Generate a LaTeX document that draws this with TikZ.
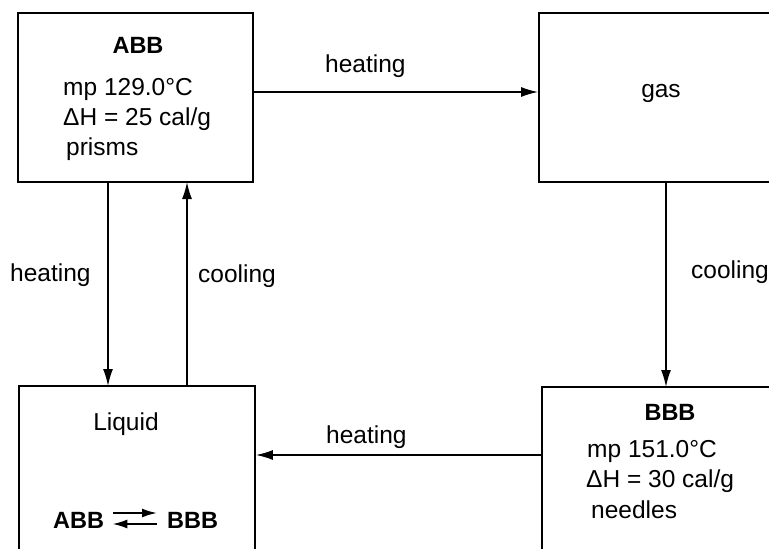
\documentclass[tikz,border=0pt]{standalone}
\usepackage{fontspec}
\setmainfont{Liberation Sans}
\usetikzlibrary{arrows.meta}
\begin{document}
\begin{tikzpicture}[x=1pt,y=-1pt,
  box/.style={draw,line width=1.8pt,minimum width=#1,inner sep=0pt},
  txt/.style={font=\fontsize{24.5}{29}\selectfont,inner sep=0pt,anchor=base west},
  ttl/.style={font=\fontsize{23.5}{28}\selectfont\bfseries,inner sep=0pt,anchor=base},
  tip/.style={-{Latex[length=17pt,width=10pt]}},
  conn/.style={line width=1.5pt,tip}]
\useasboundingbox (0,0) rectangle (769,549);
\clip (0,0) rectangle (769,549);
% boxes
\node[box=235pt,minimum height=169pt] (abb) at (135.5,97.5) {};
\node[box=236pt,minimum height=169pt] (gas) at (657,97.5) {};
\node[box=236pt,minimum height=170pt] (liq) at (137,471) {};
\node[box=234pt,minimum height=170pt] (bbb) at (659,472) {};
% ABB texts
\node[ttl] (abbt) at (138,53) {ABB};
\node[txt] (abb1) at (63,95) {mp 129.0°C};
\node[txt] (abb2) at (63,125) {ΔH = 25 cal/g};
\node[txt] (abb3) at (66,155) {prisms};
% gas
\node[txt,anchor=base] (gast) at (661,97) {gas};
% Liquid
\node[txt,anchor=base] (liqt) at (126,430) {Liquid};
\node[ttl,anchor=base west] (eqa) at (53,528) {ABB};
\node[ttl,anchor=base west] (eqb) at (167,528) {BBB};
\draw[line width=2pt,-{Latex[length=15pt,width=9pt]}] ([xshift=9pt,yshift=15pt]eqa.base east) -- ([xshift=-10pt,yshift=15pt]eqb.base west);
\draw[line width=2pt,-{Latex[length=15pt,width=9pt]}] ([xshift=-10pt,yshift=4pt]eqb.base west) -- ([xshift=8pt,yshift=4pt]eqa.base east);
% BBB texts
\node[ttl] (bbbt) at (670,420) {BBB};
\node[txt] (bbb1) at (587,457) {mp 151.0°C};
\node[txt] (bbb2) at (586,487) {ΔH = 30 cal/g};
\node[txt] (bbb3) at (591,518) {needles};
% connectors
\coordinate (a1) at (108,182);
\coordinate (l1) at (108,386);
\coordinate (a2) at (187,182);
\coordinate (l2) at (187,386);
\coordinate (g1) at (666,182);
\coordinate (b1) at (666,387);
\draw[conn] (abb.east |- 0,92) -- (gas.west |- 0,92);
\draw[conn] (a1) -- (l1);
\draw[conn] (l2) -- (a2);
\draw[conn] (g1) -- (b1);
\draw[conn] (bbb.west |- 0,455) -- (liq.east |- 0,455);
% labels
\node[txt] (lh1) at (325,72) {heating};
\node[txt] (lh2) at (10,281) {heating};
\node[txt] (lc1) at (198,282) {cooling};
\node[txt] (lc2) at (691,278) {cooling};
\node[txt] (lh3) at (326,443) {heating};
\end{tikzpicture}
\end{document}
